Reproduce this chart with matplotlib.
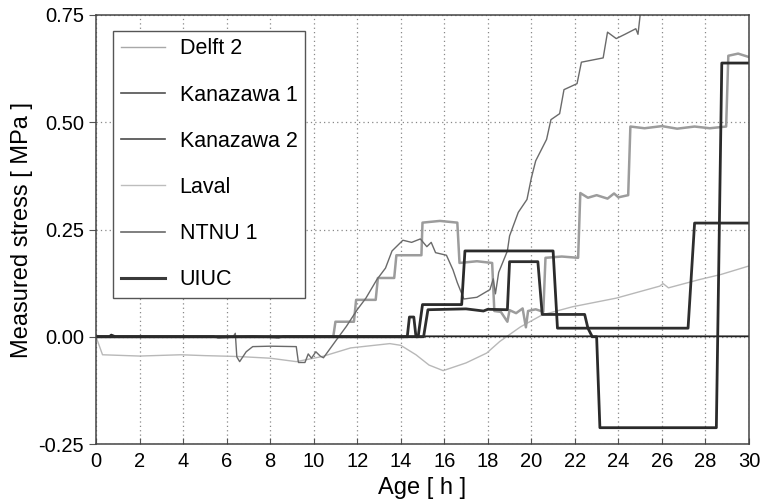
import matplotlib
matplotlib.use("Agg")
import matplotlib.pyplot as plt
from matplotlib.lines import Line2D
from matplotlib.ticker import FormatStrFormatter, MultipleLocator

plt.rcParams['font.family'] = ['Liberation Sans', 'DejaVu Sans']

# ---- data (age in h, stress in MPa) ----
laval_t = [0, 0.3, 2, 3.9, 5, 6.5, 8, 9.2, 10.4, 11.7, 13.5, 14.0, 14.7, 15.3, 15.95,
           17.0, 17.95, 18.55, 19.5, 20.5, 21.9, 23.9, 25.9, 26.05, 26.3, 27.7, 28.7, 30]
laval_s = [0, -0.042, -0.045, -0.042, -0.044, -0.046, -0.05, -0.058, -0.046, -0.026, -0.016,
           -0.02, -0.042, -0.066, -0.079, -0.061, -0.038, -0.011, 0.023, 0.051, 0.07, 0.09,
           0.118, 0.124, 0.114, 0.133, 0.145, 0.165]

delft2_t = [0, 10.9, 11.0, 11.85, 11.95, 12.85, 12.95, 13.7, 13.8, 14.95, 15.0, 15.8, 16.6, 16.7,
            17.5, 18.2, 18.3, 18.6, 18.9, 19.0, 19.3, 19.6, 19.75, 19.85, 20.2, 20.55, 20.65,
            21.4, 22.15, 22.25, 22.6, 23.0, 23.5, 23.8, 24.0, 24.45, 24.55, 25.2, 26.0, 26.7,
            27.5, 28.2, 28.95, 29.05, 29.5, 30]
delft2_s = [0, 0, 0.035, 0.035, 0.086, 0.086, 0.137, 0.137, 0.19, 0.19, 0.266, 0.27, 0.266,
            0.172, 0.176, 0.172, 0.06, 0.058, 0.035, 0.062, 0.055, 0.066, 0.022, 0.06, 0.064,
            0.058, 0.184, 0.187, 0.184, 0.335, 0.324, 0.33, 0.322, 0.334, 0.325, 0.33, 0.49,
            0.486, 0.491, 0.485, 0.49, 0.486, 0.49, 0.655, 0.66, 0.652]

ntnu1_t = [0, 6.3, 6.4, 6.47, 6.6, 6.9, 7.2, 8.0, 9.2, 9.3, 9.6, 9.75, 9.9, 10.1, 10.3, 10.45,
           11.05, 11.5, 12.0, 12.4, 12.9, 13.3, 13.6, 14.1, 14.5, 14.9, 15.2, 15.4, 15.6, 16.1,
           16.4, 16.6, 16.9, 17.5, 18.1, 18.25, 18.35, 18.5, 18.7, 18.9, 19.0, 19.4, 19.8, 20.0,
           20.2, 20.7, 20.9, 21.3, 21.5, 22.1, 22.3, 23.3, 23.5, 23.9, 24.3, 24.8, 24.9, 25.0, 25.3]
ntnu1_s = [0, 0, 0.008, -0.047, -0.058, -0.035, -0.023, -0.022, -0.023, -0.06, -0.06, -0.04,
           -0.05, -0.035, -0.045, -0.049, -0.007, 0.024, 0.063, 0.09, 0.133, 0.16, 0.2, 0.225,
           0.22, 0.228, 0.21, 0.22, 0.196, 0.19, 0.156, 0.126, 0.088, 0.092, 0.11, 0.135, 0.1,
           0.15, 0.175, 0.2, 0.235, 0.29, 0.32, 0.37, 0.41, 0.46, 0.506, 0.52, 0.576, 0.59, 0.64,
           0.65, 0.71, 0.695, 0.705, 0.718, 0.705, 0.75, 0.8]

kanazawa1_t = [0, 0.6, 0.7, 0.9, 5.4, 5.6, 7.2, 8.4, 8.6, 30]
kanazawa1_s = [0.001, 0.001, 0.005, 0.001, 0.001, -0.002, 0.001, -0.002, 0.001, 0.001]

kanazawa2_t = [0, 14.3, 14.4, 14.6, 14.7, 15.05, 15.25, 17.0, 17.8, 18.0, 18.9, 19.0, 20.3, 20.5,
               22.45, 22.6, 27.2, 27.5, 30]
kanazawa2_s = [0, 0, 0.046, 0.046, 0, 0, 0.063, 0.065, 0.06, 0.064, 0.063, 0.175, 0.175, 0.052,
               0.052, 0.02, 0.02, 0.265, 0.265]

uiuc_t = [0, 14.8, 15.0, 16.8, 16.95, 21.0, 21.2, 22.6, 22.8, 23.0, 23.15, 28.5, 28.75, 30]
uiuc_s = [0, 0, 0.075, 0.075, 0.2, 0.2, 0.02, 0.02, 0, 0, -0.212, -0.212, 0.638, 0.638]

legend_labels = ['Delft 2', 'Kanazawa 1', 'Kanazawa 2', 'Laval', 'NTNU 1', 'UIUC']

fig = plt.figure(figsize=(7.63, 5.03), dpi=100)
ax = fig.add_axes([96 / 763, 1 - 444 / 503, (749 - 96) / 763, (444 - 15) / 503])

ax.plot(laval_t, laval_s, color='#b8b8b8', lw=1.0)
ax.plot(delft2_t, delft2_s, color='#9c9c9c', lw=1.8)
ax.plot(ntnu1_t, ntnu1_s, color='#6a6a6a', lw=1.0)
ax.plot(kanazawa1_t, kanazawa1_s, color='#222222', lw=1.3)
ax.plot(kanazawa2_t, kanazawa2_s, color='#2e2e2e', lw=2.0)
ax.plot(uiuc_t, uiuc_s, color='#2a2a2a', lw=2.0)

ax.set_xlim(0, 30)
ax.set_ylim(-0.25, 0.75)
ax.xaxis.set_major_locator(MultipleLocator(2))
ax.yaxis.set_major_locator(MultipleLocator(0.25))
ax.yaxis.set_major_formatter(FormatStrFormatter('%.2f'))
ax.tick_params(axis='x', direction='in', labelsize=14.5, length=4, color='#555555', pad=6)
ax.tick_params(axis='y', direction='out', labelsize=14.5, length=5, color='#555555')
ax.grid(True, color='#888888', linestyle=(0, (1, 2.5)), linewidth=0.9)
for sp in ax.spines.values():
    sp.set_color('#444444')
    sp.set_linewidth(1.1)

ax.set_xlabel('Age [ h ]', fontsize=17, labelpad=4)
ax.set_ylabel('Measured stress [ MPa ]', fontsize=17, labelpad=4)

# legend samples are drawn thinner than the curves, as in the original
handles = [Line2D([], [], color='#a8a8a8', lw=1.0),
           Line2D([], [], color='#505050', lw=1.2),
           Line2D([], [], color='#4a4a4a', lw=1.2),
           Line2D([], [], color='#bdbdbd', lw=1.0),
           Line2D([], [], color='#6a6a6a', lw=1.2),
           Line2D([], [], color='#3a3a3a', lw=2.2)]
leg = ax.legend(handles, legend_labels,
                loc='upper left', bbox_to_anchor=(0.026, 0.963), borderaxespad=0,
                fontsize=15.5, labelspacing=1.17, handlelength=2.05, handletextpad=0.7,
                borderpad=0.35, fancybox=False, framealpha=1, edgecolor='#555555')
leg.get_frame().set_linewidth(1.0)

fig.savefig('out.png', dpi=100)
